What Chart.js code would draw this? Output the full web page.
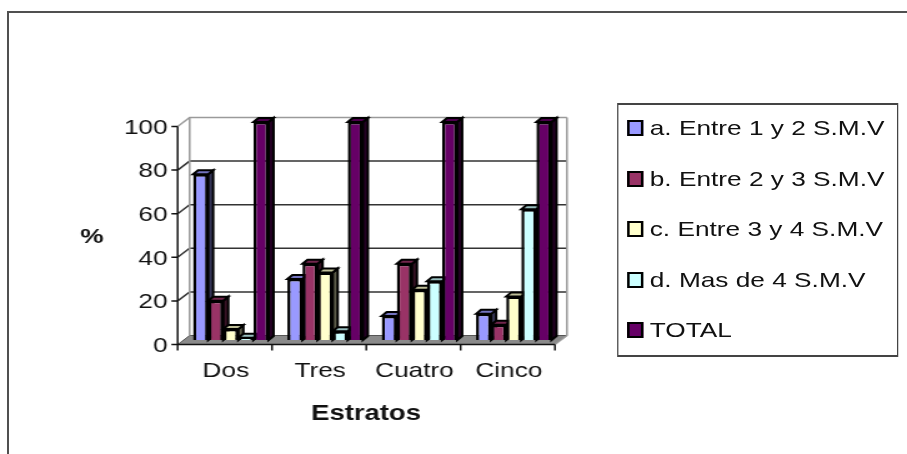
<!DOCTYPE html>
<html>
<head>
<meta charset="utf-8">
<script src="https://cdn.jsdelivr.net/npm/chart.js@4.4.1/dist/chart.umd.min.js"></script>
<style>
  html, body { margin: 0; padding: 0; background: #fff; overflow: hidden; }
  #frame { position: absolute; left: 7px; top: 11px; width: 1000px; height: 1000px; border: 2.5px solid #505050; }
  /* the original picture is stretched sideways, so draw narrow and scale the whole block */
  #wrap { position: absolute; left: 0; top: 0; width: 726px; height: 454px; transform: scaleX(1.2493); transform-origin: 0 0; }
  #legend { position: absolute; left: 493.6px; top: 103px; width: 225.6px; height: 254px; box-sizing: border-box;
    border-top: 2px solid #444; border-bottom: 2px solid #444; border-left: 1.6px solid #444; border-right: 1.6px solid #444;
    font: 21px "Liberation Sans", Arial, sans-serif; color: #111; }
  .item { position: absolute; left: 0; height: 46px; display: flex; align-items: center; white-space: nowrap; }
  .sw { width: 13px; height: 16px; box-sizing: border-box; border: 2px solid #000; margin-left: 7px; margin-right: 5.5px; }
</style>
</head>
<body>
<div id="frame"></div>
<div id="wrap">
  <canvas id="chart" width="726" height="454"></canvas>
  <div id="legend"></div>
</div>
<script>
const categories = ['Dos', 'Tres', 'Cuatro', 'Cinco'];
const seriesNames = ['a. Entre 1 y 2 S.M.V', 'b. Entre 2 y 3 S.M.V', 'c. Entre 3 y 4 S.M.V', 'd. Mas de 4 S.M.V', 'TOTAL'];
const entre1y2 = [76, 28, 11, 12];
const entre2y3 = [18, 35, 35, 7];
const entre3y4 = [5, 31, 23, 20];
const masDe4 = [1, 4, 27, 60];
const total = [100, 100, 100, 100];
const yTicks = [0, 20, 40, 60, 80, 100];
const colors = ['#9999FF', '#993366', '#FFFFCC', '#CCFFFF', '#660066'];

const DX = 4.8, DY = 4.5;   // wall depth
const BX = 4, BY = 4;       // bar depth

function shade(hex, f) {
  const n = parseInt(hex.slice(1), 16);
  const r = Math.round(((n >> 16) & 255) * f), g = Math.round(((n >> 8) & 255) * f), b = Math.round((n & 255) * f);
  return `rgb(${r},${g},${b})`;
}

function poly(ctx, pts) {
  ctx.beginPath();
  ctx.moveTo(pts[0][0], pts[0][1]);
  pts.slice(1).forEach(p => ctx.lineTo(p[0], p[1]));
  ctx.closePath();
  ctx.fill();
  ctx.stroke();
}

const box3d = {
  id: 'box3d',
  beforeDatasetsDraw(chart) {
    const { ctx, chartArea: a, scales: { x, y } } = chart;
    const fl = a.left - DX, fr = a.right - DX, fb = a.bottom + DY, ft = a.top + DY;
    const bl = a.left + DX, br = a.right + DX, bb = a.bottom - DY, bt = a.top - DY;
    ctx.save();

    // floor
    ctx.fillStyle = '#8a8a8a';
    ctx.strokeStyle = '#555';
    ctx.lineWidth = 1;
    poly(ctx, [[fl, fb], [fr, fb], [br, bb], [bl, bb]]);

    // walls and gridlines
    ctx.lineWidth = 1.5;
    yTicks.forEach(v => {
      if (v === 0) return;
      const py = y.getPixelForValue(v);
      ctx.strokeStyle = v === 100 ? '#9a9a9a' : '#333';
      ctx.beginPath();
      ctx.moveTo(fl, py + DY);
      ctx.lineTo(bl, py - DY);
      ctx.lineTo(br, py - DY);
      ctx.stroke();
    });
    ctx.strokeStyle = '#9a9a9a';
    ctx.beginPath();
    ctx.moveTo(bl, bt); ctx.lineTo(bl, bb);
    ctx.moveTo(br, bt); ctx.lineTo(br, bb); ctx.lineTo(fr, fb);
    ctx.stroke();

    // front axes
    ctx.strokeStyle = '#111';
    ctx.lineWidth = 1.5;
    ctx.beginPath();
    ctx.moveTo(fl, ft); ctx.lineTo(fl, fb); ctx.lineTo(fr, fb);
    yTicks.forEach(v => {
      const py = y.getPixelForValue(v) + DY;
      ctx.moveTo(fl - 5, py); ctx.lineTo(fl, py);
    });
    const w = (a.right - a.left) / categories.length;
    for (let i = 0; i <= categories.length; i++) {
      const px = (i < categories.length ? x.getPixelForValue(i) - w / 2 : x.getPixelForValue(i - 1) + w / 2) - DX;
      ctx.moveTo(px, fb); ctx.lineTo(px, fb + 6);
    }
    ctx.stroke();

    // bars, series by series, with depth faces
    chart.data.datasets.forEach((ds, i) => {
      const meta = chart.getDatasetMeta(i);
      ctx.strokeStyle = '#000';
      ctx.lineWidth = 2;
      meta.data.forEach(bar => {
        const { x: cx, y: top, base, width } = bar.getProps(['x', 'y', 'base', 'width'], true);
        const l = cx - width / 2, r = cx + width / 2;
        ctx.fillStyle = shade(ds.backgroundColor, 0.35);
        poly(ctx, [[r, top], [r + BX, top - BY], [r + BX, base - BY], [r, base]]);
        ctx.fillStyle = shade(ds.backgroundColor, 0.75);
        poly(ctx, [[l, top], [l + BX, top - BY], [r + BX, top - BY], [r, top]]);
      });
      meta.controller.draw();
    });
    ctx.restore();
    return false;
  },
  afterDraw(chart) {
    const { ctx } = chart;
    ctx.save();
    ctx.fillStyle = '#111';
    ctx.textAlign = 'center';
    ctx.textBaseline = 'middle';
    ctx.font = 'bold 21px "Liberation Sans", Arial, sans-serif';
    ctx.fillText('%', 73.6, 237);
    ctx.font = 'bold 22px "Liberation Sans", Arial, sans-serif';
    ctx.fillText('Estratos', 293, 414);
    ctx.restore();
  }
};

Chart.defaults.font.family = '"Liberation Sans", Arial, sans-serif';

const seriesData = [entre1y2, entre2y3, entre3y4, masDe4, total];

const chart = new Chart(document.getElementById('chart'), {
  type: 'bar',
  data: {
    labels: categories,
    datasets: seriesNames.map((name, i) => ({
      label: name,
      data: seriesData[i],
      backgroundColor: colors[i],
      borderColor: '#000',
      borderWidth: 2.5,
      categoryPercentage: 0.8,
      barPercentage: 1.0
    }))
  },
  options: {
    responsive: false,
    animation: false,
    devicePixelRatio: 1,
    layout: { padding: { top: 122, right: 277, bottom: 0, left: 0 } },
    plugins: {
      legend: { display: false },
      tooltip: { enabled: false }
    },
    scales: {
      x: {
        grid: { display: false, drawTicks: false },
        border: { display: false },
        ticks: { color: '#111', font: { size: 21 }, padding: 19, labelOffset: -4 },
        afterFit(s) { s.height = 114; }
      },
      y: {
        min: 0,
        max: 100,
        grid: { display: false, drawTicks: false },
        border: { display: false },
        ticks: { stepSize: 20, color: '#111', font: { size: 21 }, padding: 12.8, labelOffset: 6 },
        afterFit(s) { s.width = 147; }
      }
    }
  },
  plugins: [box3d]
});

// legend built from the chart's own datasets
const legend = document.getElementById('legend');
chart.data.datasets.forEach((ds, i) => {
  const item = document.createElement('div');
  item.className = 'item';
  item.style.top = (50.5 * i) + 'px';
  const sw = document.createElement('span');
  sw.className = 'sw';
  sw.style.background = ds.backgroundColor;
  const txt = document.createElement('span');
  txt.textContent = ds.label;
  item.appendChild(sw);
  item.appendChild(txt);
  legend.appendChild(item);
});
</script>
</body>
</html>
